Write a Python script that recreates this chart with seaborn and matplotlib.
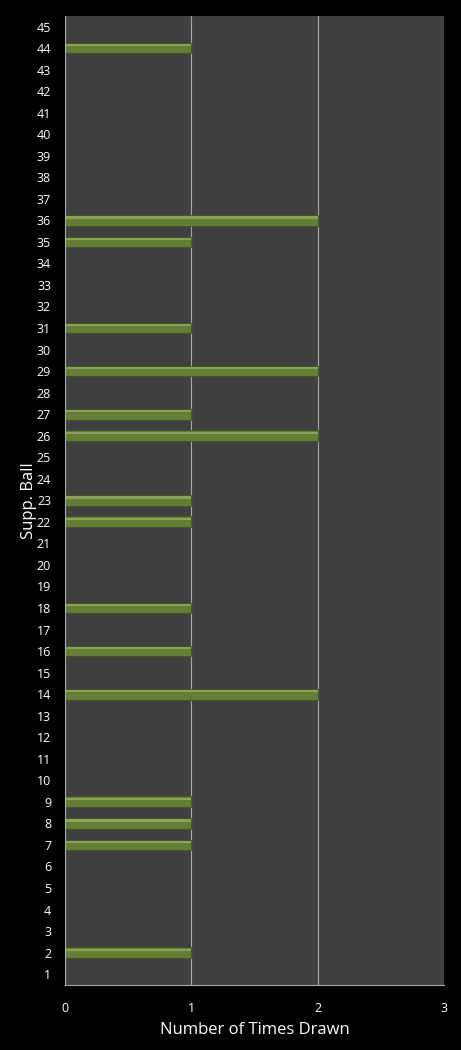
import pandas as pd
import matplotlib
matplotlib.use('Agg')
import matplotlib.pyplot as plt
from matplotlib.patches import Rectangle
import seaborn as sns

# Supplementary ball draw counts
balls = list(range(1, 46))
counts = [0, 1, 0, 0, 0, 0, 1, 1, 1, 0,
          0, 0, 0, 2, 0, 1, 0, 1, 0, 0,
          0, 1, 1, 0, 0, 2, 1, 0, 2, 0,
          1, 0, 0, 0, 1, 2, 0, 0, 0, 0,
          0, 0, 0, 1, 0]
x_ticks = [0, 1, 2, 3]

df = pd.DataFrame({'Ball': [str(b) for b in balls], 'Count': counts})
order = [str(b) for b in reversed(balls)]

sns.set_style('dark')
plt.rcParams['font.family'] = ['Open Sans', 'DejaVu Sans']

fig = plt.figure(figsize=(4.61, 10.5), dpi=100, facecolor='black')
ax = fig.add_axes([0.141, 0.062, 0.822, 0.923])
ax.set_facecolor('#404040')

sns.barplot(data=df, y='Ball', x='Count', order=order, orient='h',
            color='#647f35', edgecolor='#3e5220', linewidth=0.6,
            width=0.5, saturation=1, ax=ax)

# light highlight strip on the upper part of each bar (glossy look)
for p in list(ax.patches):
    w = p.get_width()
    if w > 0:
        y0, h = p.get_y(), p.get_height()
        ax.add_patch(Rectangle((p.get_x(), y0 + h * 0.12), w, h * 0.22,
                               facecolor='#9bb56a', edgecolor='none', alpha=0.7))

ax.set_xlim(0, 3)
ax.set_xticks(x_ticks)
ax.set_xticklabels([str(t) for t in x_ticks])
ax.xaxis.grid(True, color='#a8a8a8', linewidth=0.8)
ax.yaxis.grid(False)
ax.set_axisbelow(True)

for side in ['top', 'right']:
    ax.spines[side].set_visible(False)
for side in ['left', 'bottom']:
    ax.spines[side].set_visible(True)
    ax.spines[side].set_color('#a8a8a8')
    ax.spines[side].set_linewidth(0.8)

ax.tick_params(axis='y', colors='white', labelsize=9, length=0, pad=10)
ax.tick_params(axis='x', colors='white', labelsize=9, length=0, pad=12)
ax.set_xlabel('Number of Times Drawn', color='white', fontsize=12, labelpad=5)
ax.set_ylabel('Supp. Ball', color='white', fontsize=12, labelpad=0)

fig.savefig('out.png', dpi=100, facecolor='black')
plt.close(fig)
